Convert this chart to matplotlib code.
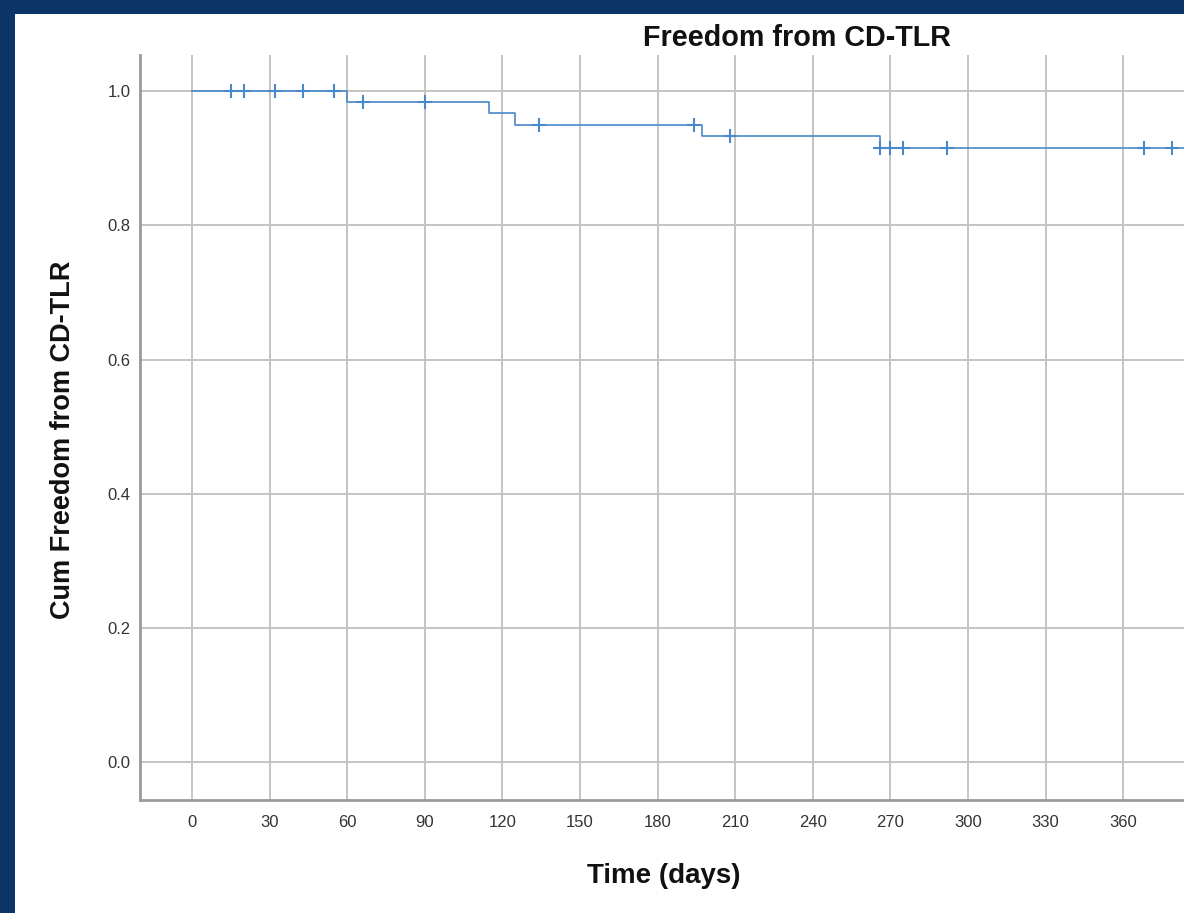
import matplotlib
matplotlib.use("Agg")
import matplotlib.pyplot as plt
import numpy as np
from matplotlib.patches import Rectangle

plt.rcParams["font.family"] = ["Liberation Sans", "DejaVu Sans"]

# Kaplan-Meier data
event_days = [60, 115, 125, 197, 266]
levels = [1.0, 0.984, 0.967, 0.950, 0.933, 0.915]
censor_days = [15, 20, 32, 43, 55, 66, 90, 134, 194, 208,
               266, 270, 275, 292, 368, 379]
end_day = 400

x_ticks = list(range(0, 361, 30))
y_ticks = [0.0, 0.2, 0.4, 0.6, 0.8, 1.0]

W, H = 1184, 913
fig = plt.figure(figsize=(W / 100, H / 100), dpi=100)
fig.patch.set_facecolor("#0a3566")

# white slide panel
fig.patches.append(Rectangle((15 / W, 0), 1, (H - 14) / H,
                             transform=fig.transFigure, facecolor="white",
                             edgecolor="none", zorder=0))

ax = fig.add_axes([140 / W, 113 / H, (W - 140) / W, 745 / H])
ax.set_facecolor("none")
ax.set_zorder(2)

# survival curve
step_x = [0] + event_days + [end_day]
step_y = levels + [levels[-1]]
ax.step(step_x, step_y, where="post", color="#4a88cc", lw=1.2, zorder=3)

# censor marks
idx = np.searchsorted(event_days, censor_days, side="right")
censor_y = [levels[i] for i in idx]
ax.plot(censor_days, censor_y, "+", color="#4a88cc", ms=10, mew=1.5,
        zorder=4)

ax.set_xlim(-20.1, 383.5)
ax.set_ylim(-0.056, 1.054)
ax.set_xticks(x_ticks)
ax.set_yticks(y_ticks)
ax.set_yticklabels([f"{v:.1f}" for v in y_ticks])
ax.grid(True, color="#c4c4c4", lw=1.4)
ax.set_axisbelow(True)
ax.tick_params(length=0, labelsize=12, colors="#333333")
ax.tick_params(axis="x", pad=11)
ax.tick_params(axis="y", pad=7)

for side in ["top", "right"]:
    ax.spines[side].set_visible(False)
for side in ["left", "bottom"]:
    ax.spines[side].set_color("#9a9a9a")
    ax.spines[side].set_linewidth(2)

fig.text(797 / W, 1 - 38 / H, "Freedom from CD-TLR", ha="center",
         va="center", fontsize=20.7, fontweight="bold", color="#111111")
fig.text(664 / W, 1 - 876 / H, "Time (days)", ha="center", va="center",
         fontsize=20, fontweight="bold", color="#111111")
fig.text(63 / W, 1 - 440 / H, "Cum Freedom from CD-TLR", ha="center",
         va="center", rotation=90, fontsize=19.5, fontweight="bold",
         color="#111111")

fig.savefig("out.png", dpi=100, facecolor=fig.get_facecolor())
